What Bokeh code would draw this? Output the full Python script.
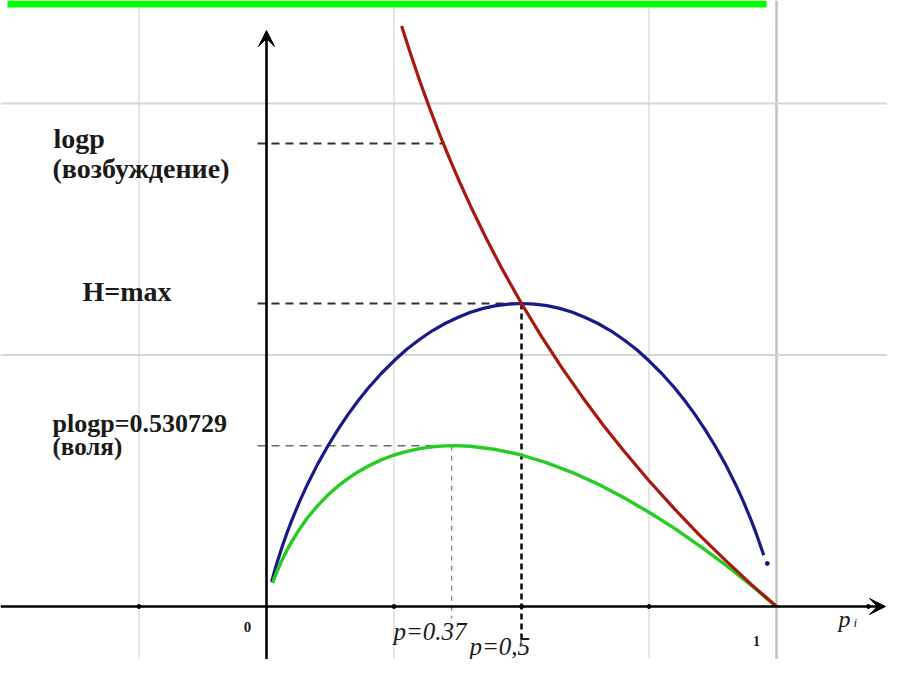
from bokeh.plotting import figure
from bokeh.models import Range1d, Span, Arrow, VeeHead, Label
from bokeh.embed import file_html
from bokeh.resources import INLINE

# ---------------- data ----------------
# red curve: -log p
red_p = [0.265, 0.28, 0.30, 0.32, 0.34, 0.36, 0.38, 0.40, 0.43, 0.46, 0.50, 0.54,
         0.58, 0.62, 0.66, 0.70, 0.75, 0.80, 0.85, 0.90, 0.95, 1.00]
red_v = [1.916, 1.837, 1.737, 1.644, 1.556, 1.474, 1.396, 1.322, 1.218, 1.120, 1.000, 0.889,
         0.786, 0.690, 0.599, 0.515, 0.415, 0.322, 0.234, 0.152, 0.074, 0.000]

# green curve: -p log p
green_p = [0.012, 0.016, 0.02, 0.03, 0.04, 0.05, 0.065, 0.08, 0.10, 0.12, 0.14, 0.16,
           0.18, 0.20, 0.225, 0.25, 0.275, 0.30, 0.325, 0.35, 0.368, 0.40, 0.45, 0.50,
           0.55, 0.60, 0.65, 0.70, 0.75, 0.80, 0.85, 0.90, 0.95, 1.00]
green_v = [0.077, 0.096, 0.113, 0.152, 0.186, 0.216, 0.256, 0.292, 0.332, 0.367, 0.397, 0.423,
           0.445, 0.464, 0.484, 0.500, 0.512, 0.521, 0.527, 0.530, 0.531, 0.529, 0.518, 0.500,
           0.474, 0.442, 0.404, 0.360, 0.311, 0.258, 0.199, 0.137, 0.070, 0.000]

# blue curve: H (entropy)
blue_p = [0.01, 0.015, 0.02, 0.03, 0.04, 0.05, 0.065, 0.08, 0.10, 0.12, 0.14, 0.16, 0.18,
          0.20, 0.225, 0.25, 0.275, 0.30, 0.325, 0.35, 0.375, 0.40, 0.425, 0.45, 0.475,
          0.50, 0.525, 0.55, 0.575, 0.60, 0.625, 0.65, 0.675, 0.70, 0.725, 0.75, 0.775,
          0.80, 0.82, 0.84, 0.86, 0.88, 0.90, 0.92, 0.935, 0.95, 0.96, 0.975]
blue_v = [0.081, 0.112, 0.141, 0.194, 0.242, 0.286, 0.347, 0.402, 0.469, 0.529, 0.584, 0.634, 0.680,
          0.722, 0.769, 0.811, 0.849, 0.881, 0.910, 0.934, 0.954, 0.971, 0.984, 0.993, 0.998,
          1.000, 0.998, 0.993, 0.984, 0.971, 0.954, 0.934, 0.910, 0.881, 0.849, 0.811, 0.769,
          0.722, 0.680, 0.634, 0.584, 0.529, 0.469, 0.402, 0.347, 0.286, 0.242, 0.169]
blue_tail_p = [0.982]
blue_tail_v = [0.142]

# reference levels
logp_p, logp_level = 0.346, 1.528
hmax_p, hmax_level = 0.5, 1.0
plogp_p, plogp_level = 0.363, 0.530729

# grid and tick positions
x_grid = [-0.25, 0.25, 0.75]
x_grid_strong = [1.0]
y_grid = [0.83, 1.66]
tick_x = [-0.25, 0.25, 0.5, 0.75, 1.18]
tick_y = [0, 0, 0, 0, 0]

# ---------------- layout helpers (picture pixel -> data) ----------------
X0, UX, Y0, UY = 266.0, 510.0, 606.0, 303.0


def dx(px):
    return (px - X0) / UX


def dy(py):
    return (Y0 - py) / UY


W, H = 887, 659
p = figure(width=W, height=H, output_backend="svg", toolbar_location=None,
           x_range=Range1d(dx(0), dx(W)), y_range=Range1d(dy(H), dy(0)),
           min_border=0, min_border_left=0, min_border_right=0,
           min_border_top=0, min_border_bottom=0)
p.axis.visible = False
p.grid.visible = False
p.outline_line_color = None
p.background_fill_color = "white"
p.border_fill_color = "white"

# green strip at top
p.quad(left=[dx(7)], right=[dx(766)], top=[dy(0)], bottom=[dy(7)],
       fill_color="#00ff00", line_color=None)

# grid lines
for gx in x_grid:
    p.add_layout(Span(location=gx, dimension="height", line_color="#dedede",
                      line_width=1.5, level="underlay"))
for gx in x_grid_strong:
    p.add_layout(Span(location=gx, dimension="height", line_color="#c2c2c2",
                      line_width=2.5, level="underlay"))
for gy in y_grid:
    p.add_layout(Span(location=gy, dimension="width", line_color="#d6d6d6",
                      line_width=2, level="underlay"))

# dashed helper lines
p.line([dx(257), logp_p], [logp_level, logp_level], line_color="#333333",
       line_width=1.8, line_dash="8 6")
p.line([dx(257), hmax_p], [hmax_level, hmax_level], line_color="#333333",
       line_width=1.8, line_dash="8 6")
p.line([dx(257), plogp_p], [plogp_level, plogp_level], line_color="#6a6a6a",
       line_width=1.6, line_dash="8 6")
p.line([plogp_p, plogp_p], [plogp_level, dy(618)], line_color="#8a8a8a",
       line_width=1.4, line_dash="5 5")
p.line([hmax_p, hmax_p], [hmax_level, dy(644)], line_color="#111111",
       line_width=2.6, line_dash="6 4")

# axes
p.add_layout(Arrow(end=VeeHead(size=16, fill_color="black", line_color="black"),
                   x_start=0, y_start=dy(H), x_end=0, y_end=dy(30),
                   line_color="black", line_width=2.6))
p.add_layout(Arrow(end=VeeHead(size=16, fill_color="black", line_color="black"),
                   x_start=dx(0), y_start=0, x_end=dx(885), y_end=0,
                   line_color="black", line_width=2.4))
p.scatter(tick_x, tick_y, size=4, color="black")

# curves
p.line(blue_p, blue_v, line_color="#1a1a86", line_width=3.2)
p.scatter(blue_tail_p, blue_tail_v, size=4, color="#1a1a86")
p.line(green_p, green_v, line_color="#24cc24", line_width=3.4)
p.line(red_p, red_v, line_color="#a8180e", line_width=3.2)

# labels
SERIF = "Liberation Serif"


def lab(text, px, py, size, style="bold", align="left", baseline="alphabetic"):
    p.add_layout(Label(x=dx(px), y=dy(py), text=text, text_font=SERIF,
                       text_font_size=f"{size}px", text_font_style=style,
                       text_color="#1a1a1a", text_align=align,
                       text_baseline=baseline))


lab("logp", 53, 138, 28)
lab("(возбуждение)", 52, 168, 28)
lab("H=max", 82, 291, 28)
lab("plogp=0.530729", 52, 423, 26)
lab("(воля)", 52, 446, 25)
lab("0", 247, 626, 15, align="center", baseline="middle")
lab("1", 756, 640, 14, align="center", baseline="middle")
lab("p=0.37", 393, 631, 25, style="italic")
lab("p=0,5", 469, 646, 25, style="italic")
lab("p", 838, 618, 24, style="italic")
lab("i", 853, 622, 13, style="italic")

open("out.html", "w").write(file_html(p, INLINE))
